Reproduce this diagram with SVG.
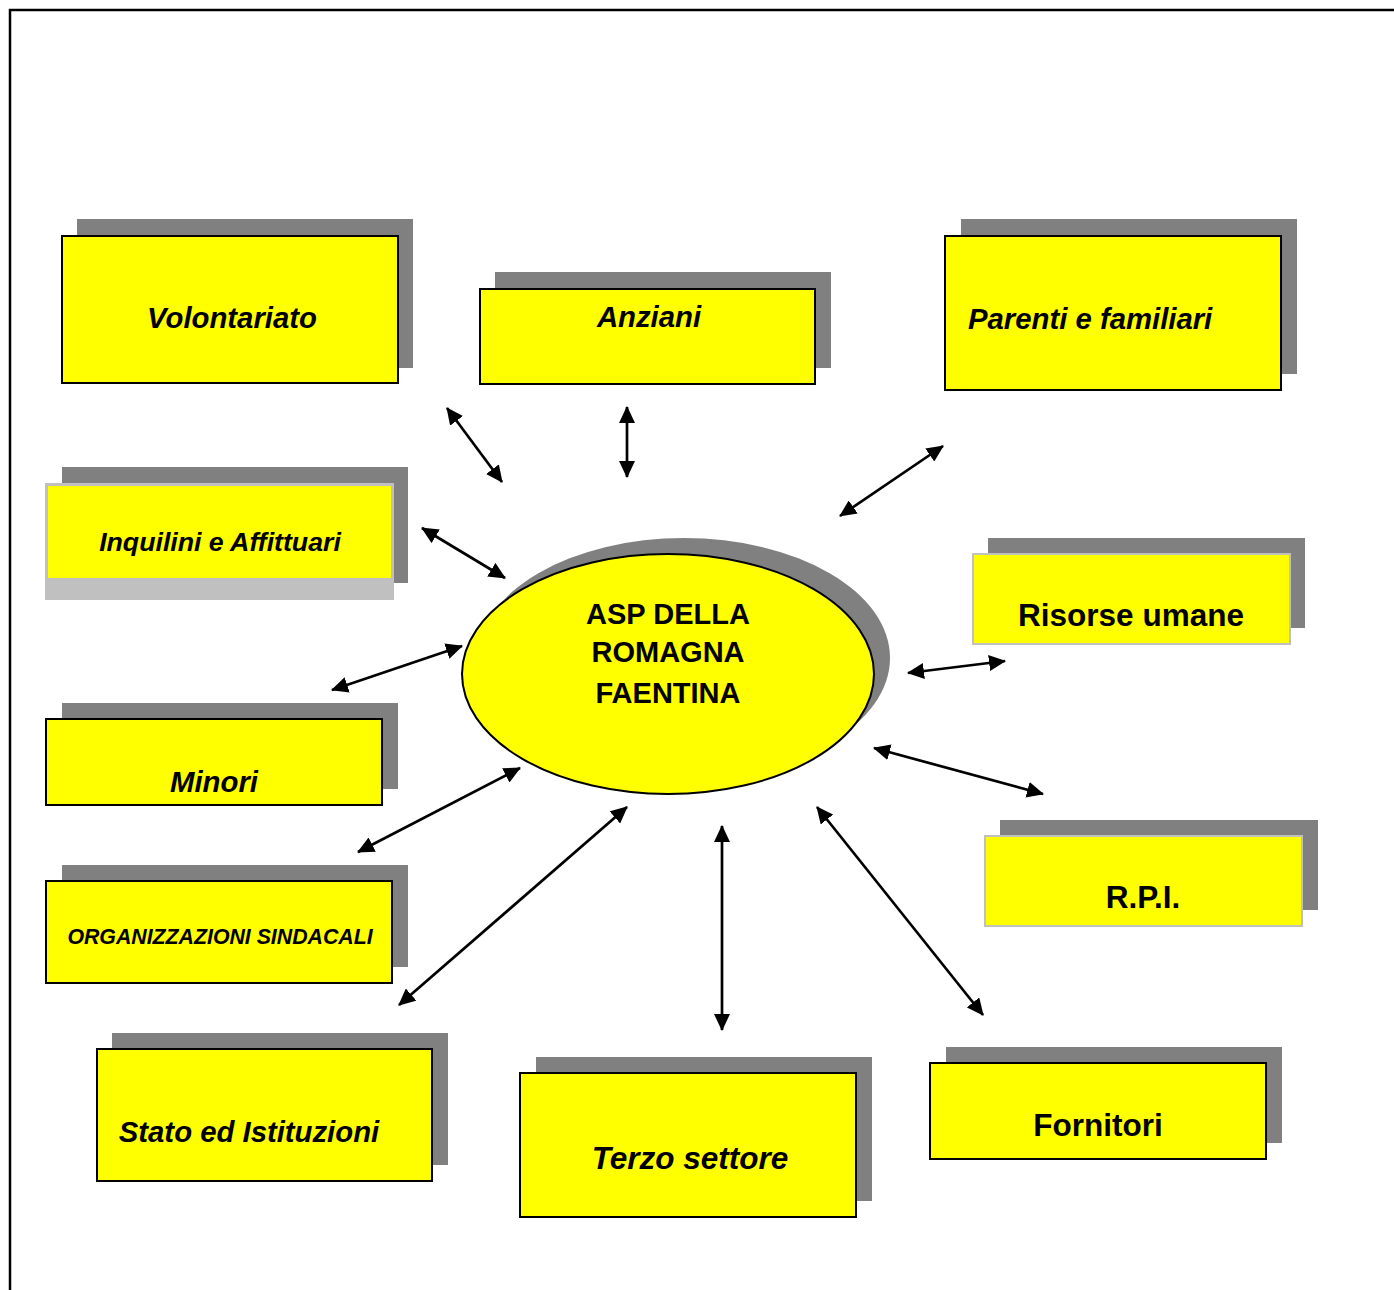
<svg xmlns="http://www.w3.org/2000/svg" width="1394" height="1290" viewBox="0 0 1394 1290">
<defs>
<style>
.sh{fill:#808080}
.bx{fill:#ffff00;stroke:#000;stroke-width:2}
.bl{fill:#ffff00;stroke:#c0c0c0;stroke-width:2}
.t{font-family:"Liberation Sans",Arial,sans-serif;font-weight:bold;fill:#000;text-anchor:middle}
.i{font-style:italic}
.c line{stroke:#000;stroke-width:2.7;marker-start:url(#ah);marker-end:url(#ah)}
</style>
<marker id="ah" viewBox="0 0 17 16" refX="16" refY="8" markerWidth="17" markerHeight="16" orient="auto-start-reverse" markerUnits="userSpaceOnUse">
<path d="M0,0 L17,8 L0,16 z" fill="#000"/>
</marker>
</defs>
<rect x="0" y="0" width="1394" height="1290" fill="#fff"/>
<path d="M10,1290 V10 H1394" fill="none" stroke="#000" stroke-width="2.5"/>

<g id="volontariato">
<rect class="sh" x="77" y="219" width="336" height="149"/>
<rect class="bx" x="62" y="236" width="336" height="147"/>
<text class="t i" x="232" y="328" font-size="29.3">Volontariato</text>
</g>
<g id="anziani">
<rect class="sh" x="495" y="272" width="336" height="96"/>
<rect class="bx" x="480" y="289" width="335" height="95"/>
<text class="t i" x="649" y="327" font-size="29.3">Anziani</text>
</g>
<g id="parenti">
<rect class="sh" x="961" y="219" width="336" height="155"/>
<rect class="bx" x="945" y="236" width="336" height="154"/>
<text class="t i" x="968" y="329" font-size="29.3" style="text-anchor:start">Parenti e familiari</text>
</g>
<g id="inquilini">
<rect class="sh" x="62" y="467" width="346" height="116"/>
<rect x="45" y="483" width="349" height="117" fill="#c0c0c0"/>
<rect x="48" y="486" width="343" height="92" fill="#ffff00"/>
<text class="t i" x="220" y="551" font-size="26.7">Inquilini e Affittuari</text>
</g>
<g id="risorse">
<rect class="sh" x="988" y="538" width="317" height="90"/>
<rect class="bl" x="973" y="554" width="317" height="90"/>
<text class="t" x="1131" y="626" font-size="31.5">Risorse umane</text>
</g>
<g id="minori">
<rect class="sh" x="62" y="703" width="336" height="86"/>
<rect class="bx" x="46" y="719" width="336" height="86"/>
<text class="t i" x="214" y="792" font-size="29.3">Minori</text>
</g>
<g id="rpi">
<rect class="sh" x="1000" y="820" width="318" height="90"/>
<rect class="bl" x="985" y="836" width="317" height="90"/>
<text class="t" x="1143" y="908" font-size="31.5">R.P.I.</text>
</g>
<g id="sindacali">
<rect class="sh" x="62" y="865" width="346" height="102"/>
<rect class="bx" x="46" y="881" width="346" height="102"/>
<text class="t i" x="220" y="944" font-size="21.3">ORGANIZZAZIONI SINDACALI</text>
</g>
<g id="stato">
<rect class="sh" x="112" y="1033" width="336" height="132"/>
<rect class="bx" x="97" y="1049" width="335" height="132"/>
<text class="t i" x="249" y="1142" font-size="29.3">Stato ed Istituzioni</text>
</g>
<g id="terzo">
<rect class="sh" x="536" y="1057" width="336" height="144"/>
<rect class="bx" x="520" y="1073" width="336" height="144"/>
<text class="t i" x="690" y="1169" font-size="31.5">Terzo settore</text>
</g>
<g id="fornitori">
<rect class="sh" x="946" y="1047" width="336" height="96"/>
<rect class="bx" x="930" y="1063" width="336" height="96"/>
<text class="t" x="1098" y="1136" font-size="31.5">Fornitori</text>
</g>
<g id="asp">
<ellipse cx="684" cy="658" rx="206" ry="120" fill="#808080"/>
<ellipse cx="668" cy="674" rx="206" ry="120" fill="#ffff00" stroke="#000" stroke-width="2"/>
<text class="t" x="668" y="624" font-size="29">ASP DELLA</text>
<text class="t" x="668" y="662" font-size="29">ROMAGNA</text>
<text class="t" x="668" y="703" font-size="29">FAENTINA</text>
</g>

<g id="connectors" class="c">
<line x1="447" y1="408" x2="502" y2="482"/>
<line x1="627" y1="407" x2="627" y2="477"/>
<line x1="943" y1="446" x2="840" y2="516"/>
<line x1="422" y1="528" x2="505" y2="578"/>
<line x1="462" y1="646" x2="332" y2="690"/>
<line x1="908" y1="673" x2="1005" y2="661"/>
<line x1="874" y1="748" x2="1043" y2="794"/>
<line x1="520" y1="768" x2="358" y2="852"/>
<line x1="627" y1="807" x2="399" y2="1005"/>
<line x1="722" y1="826" x2="722" y2="1030"/>
<line x1="817" y1="807" x2="983" y2="1015"/>
</g>
</svg>
